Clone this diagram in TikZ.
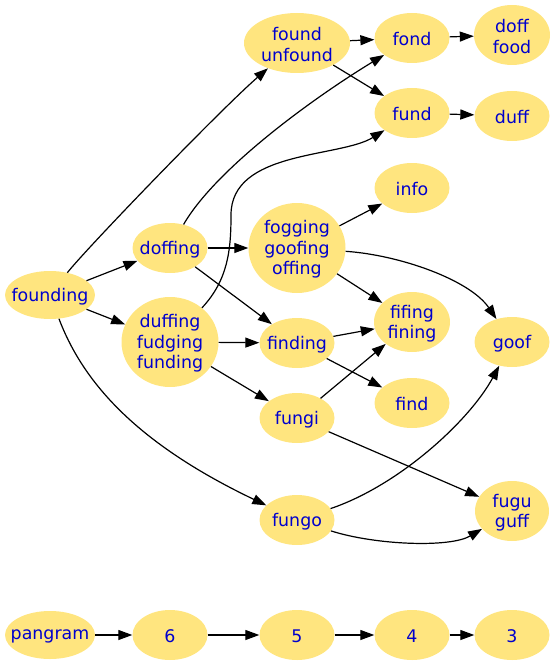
\documentclass[tikz,border=0pt]{standalone}
\usepackage{fontspec}
\newfontfamily\dv{DejaVu Sans}
\usetikzlibrary{shapes.geometric,arrows.meta}
\definecolor{nodefill}{HTML}{FFE57F}
\definecolor{nodetext}{HTML}{0000CD}
\tikzset{
  nd/.style={ellipse, fill=nodefill, draw=none, inner sep=0pt},
  lbl/.style={text=nodetext, font={\dv\fontsize{17.4}{20.5}\selectfont}, align=center, inner sep=0pt, yshift=-1.5pt},
  txt/.style={label={[lbl]center:{#1}}},
  sa/.style={nd, minimum width=75pt, minimum height=50pt},
  sw/.style={nd, minimum width=90pt, minimum height=48pt},
  sb/.style={nd, minimum width=76pt, minimum height=60pt},
  sbw/.style={nd, minimum width=106pt, minimum height=60pt},
  sc/.style={nd, minimum width=97pt, minimum height=90pt},
  edge/.style={draw=black, line width=1.2pt, -{Triangle[length=14pt,width=10pt]}},
}
\begin{document}
\begin{tikzpicture}[x=1pt,y=-1pt]
\useasboundingbox (0,0) rectangle (556,666);
% nodes
\node[sw,txt={founding}] (founding) at (50,295) {};
\node[sa,txt={doffing}] (doffing) at (170,248) {};
\node[sc,txt={duffing\\fudging\\funding}] (duf) at (170,342) {};
\node[sbw,txt={found\\unfound}] (fu) at (297,43) {};
\node[sc,txt={fogging\\goofing\\offing}] (fog) at (297,248) {};
\node[sa,txt={finding}] (finding) at (297,343) {};
\node[sa,txt={fungi}] (fungi) at (297,418) {};
\node[sa,txt={fungo}] (fungo) at (297,520) {};
\node[sa,txt={fond}] (fond) at (412,38) {};
\node[sa,txt={fund}] (fund) at (412,113) {};
\node[sa,txt={info}] (info) at (412,188) {};
\node[sb,txt={fifing\\fining}] (fif) at (412,322) {};
\node[sa,txt={find}] (find) at (412,403) {};
\node[sb,txt={doff\\food}] (df) at (512,35) {};
\node[sa,txt={duff}] (duff) at (512,116) {};
\node[sa,txt={goof}] (goof) at (512,342) {};
\node[nd,minimum width=74pt,minimum height=60pt,txt={fugu\\guff}] (fg) at (512,511) {};
\node[sw,txt={pangram}] (pan) at (50,635) {};
\node[sa,txt={6}] (n6) at (170,635) {};
\node[sa,txt={5}] (n5) at (297,635) {};
\node[sa,txt={4}] (n4) at (412,635) {};
\node[sa,txt={3}] (n3) at (512,635) {};
\coordinate (k1) at (231,215);
% edges
\draw[edge] (founding) .. controls (85,250) and (220,110) .. (fu);
\draw[edge] (founding) -- (doffing);
\draw[edge] (founding) -- (duf);
\draw[edge] (founding) .. controls (84,385) and (140,445) .. (fungo);
\draw[edge] (fu) -- (fond);
\draw[edge] (fu) -- (fund);
\draw[edge] (fond) -- (df);
\draw[edge] (fund) -- (duff);
\draw[edge] (doffing) .. controls (215,170) and (310,100) .. (fond);
\draw[edge] (duf) .. controls (228,280) and (231,250) .. (k1) .. controls (231,150) and (340,158) .. (fund);
\draw[edge] (doffing) -- (fog);
\draw[edge] (doffing) -- (finding);
\draw[edge] (duf) -- (finding);
\draw[edge] (duf) -- (fungi);
\draw[edge] (fog) -- (info);
\draw[edge] (fog) -- (fif);
\draw[edge] (fog) .. controls (400,255) and (470,280) .. (goof);
\draw[edge] (finding) -- (fif);
\draw[edge] (finding) -- (find);
\draw[edge] (fungi) -- (fif);
\draw[edge] (fungi) -- (fg);
\draw[edge] (fungo) .. controls (400,485) and (470,420) .. (goof);
\draw[edge] (fungo) .. controls (375,545) and (450,548) .. (fg);
\draw[edge] (pan) -- (n6);
\draw[edge] (n6) -- (n5);
\draw[edge] (n5) -- (n4);
\draw[edge] (n4) -- (n3);
\end{tikzpicture}
\end{document}
